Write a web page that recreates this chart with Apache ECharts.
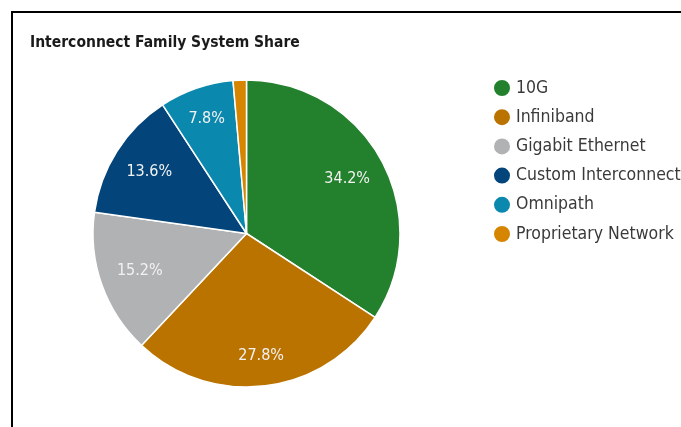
<!DOCTYPE html>
<html>
<head>
<meta charset="utf-8">
<script src="https://cdn.jsdelivr.net/npm/echarts@6/dist/echarts.min.js"></script>
<style>
html,body{margin:0;padding:0;background:#fff;}
#chart{width:681px;height:427px;}
</style>
</head>
<body>
<div id="chart"></div>
<script>
const categories = ['10G', 'Infiniband', 'Gigabit Ethernet', 'Custom Interconnect', 'Omnipath', 'Proprietary Network'];
const shares = [34.2, 27.8, 15.2, 13.6, 7.8, 1.4];
const colors = ['#23802d', '#bb7300', '#b1b2b4', '#03457a', '#0a88ad', '#d68500'];
const title = 'Interconnect Family System Share';

const FONT = 'DejaVu Sans Condensed';
const center = [246.5, 233.5];
const R = 153.5;

const data = categories.map((n, i) => ({ name: n, value: shares[i], itemStyle: { color: colors[i] } }));

const chart = echarts.init(document.getElementById('chart'), null, { renderer: 'canvas' });
chart.setOption({
  animation: false,
  title: {
    text: title, left: 25, top: 30,
    textStyle: { fontFamily: FONT, fontWeight: 'bold', fontSize: 15.5, color: '#1a1a1a' }
  },
  legend: {
    orient: 'vertical', left: 492, top: 78, padding: 0,
    icon: 'circle', itemWidth: 18, itemHeight: 18, itemGap: 9.2,
    data: categories,
    textStyle: { fontFamily: FONT, fontSize: 17.5, color: '#3a3a3a' }
  },
  graphic: [{
    type: 'polyline', silent: true,
    shape: { points: [[12, 427], [12, 12], [681, 12]] },
    style: { stroke: '#000', lineWidth: 2, fill: null }
  }],
  series: [{
    type: 'pie', center: center, radius: [0, R],
    startAngle: 90, clockwise: true,
    data: data,
    label: {
      show: true, position: 'inside',
      formatter: p => (p.percent < 3 ? '' : p.value.toFixed(1) + '%'),
      fontFamily: FONT, fontSize: 16, color: '#f2f2f2'
    },
    labelLayout: function (p) {
      const r = p.labelRect;
      const x0 = r.x + r.width / 2, y0 = r.y + r.height / 2;
      const vx = x0 - center[0], vy = y0 - center[1];
      const len = Math.sqrt(vx * vx + vy * vy) || 1;
      const c = vy / len;
      const d = 112 + 11 * c * c;
      return { dx: vx / len * d - vx, dy: vy / len * d - vy };
    },
    labelLine: { show: false },
    itemStyle: { borderColor: '#fff', borderWidth: 1.5 },
    emphasis: { disabled: true }
  }]
});
</script>
</body>
</html>
